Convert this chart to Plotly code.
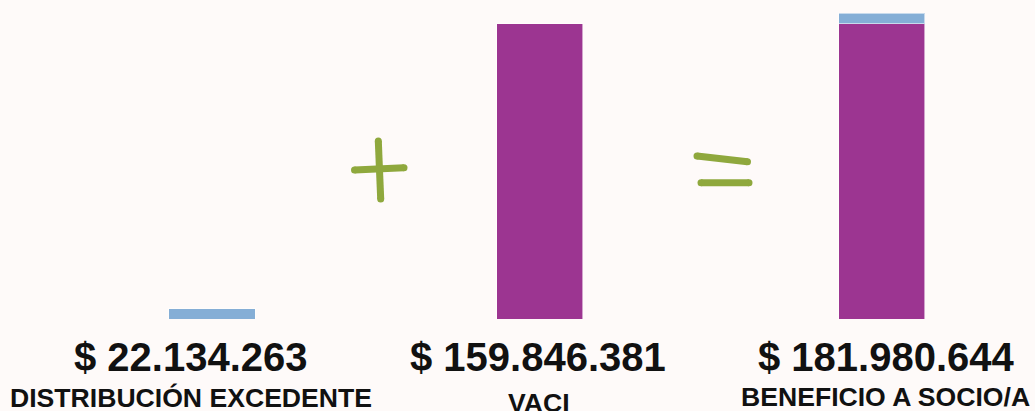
import plotly.graph_objects as go

# ---- data ----
categories = ["DISTRIBUCIÓN EXCEDENTE", "VACI", "BENEFICIO A SOCIO/A"]
amount_labels = ["$ 22.134.263", "$ 159.846.381", "$ 181.980.644"]
vaci_bar = [None, 159.846381, 159.846381]      # purple segment (millions)
excedente_bar = [5.6, None, 5.6]               # blue segment as drawn (millions)

PURPLE = "#9c3591"
BLUE = "#85aed6"
GREEN = "#8fa83d"
BG = "#fefaf9"

bar_w = 0.257
offsets = [-bar_w / 2, -bar_w / 2 - 0.022, -bar_w / 2]

fig = go.Figure()
fig.add_trace(go.Bar(
    x=categories, y=vaci_bar, marker=dict(color=PURPLE, line=dict(color="rgba(255,255,255,0.55)", width=1)),
    width=bar_w, offset=offsets, hoverinfo="skip", showlegend=False))
fig.add_trace(go.Bar(
    x=categories, y=excedente_bar, marker=dict(color=BLUE, line=dict(color="rgba(255,255,255,0.55)", width=1)),
    width=bar_w, offset=offsets, hoverinfo="skip", showlegend=False))

H = 319.0
def py(p):
    return (H - p) / H

annotations = []
num_shift = [-21, -9, 5]
name_shift = [-21, -8, 4]
name_y = [397.5, 402.5, 396.5]
for i, (cat, amt) in enumerate(zip(categories, amount_labels)):
    annotations.append(dict(
        x=cat, xref="x", y=py(357), yref="paper", xshift=num_shift[i],
        text=f"<b>{amt}</b>", showarrow=False, xanchor="center", yanchor="middle",
        font=dict(family="Liberation Sans, Arial, sans-serif", size=40, color="#111111")))
    annotations.append(dict(
        x=cat, xref="x", y=py(name_y[i]), yref="paper", xshift=name_shift[i],
        text=f"<b>{cat}</b>", showarrow=False, xanchor="center", yanchor="middle",
        font=dict(family="Liberation Sans, Arial, sans-serif", size=26.6, color="#111111")))

W = 1035.0
def px(p):
    return p / W

# hand-drawn "+" and "=" decorations (pixel positions of stroke ends)
strokes = [
    ((378.3, 141), (380.7, 199)),
    ((354.5, 170), (404, 167.7)),
    ((697, 156), (747.5, 161.7)),
    ((701, 182.7), (749, 182.7)),
]
SW = 7
shapes = []
for a, b in strokes:
    shapes.append(dict(type="line", xref="paper", yref="paper",
                       x0=px(a[0]), y0=py(a[1]), x1=px(b[0]), y1=py(b[1]),
                       line=dict(color=GREEN, width=SW)))
    for p in (a, b):
        shapes.append(dict(type="circle", xref="paper", yref="paper",
                           xsizemode="pixel", ysizemode="pixel",
                           xanchor=px(p[0]), yanchor=py(p[1]),
                           x0=-SW / 2, x1=SW / 2, y0=-SW / 2, y1=SW / 2,
                           fillcolor=GREEN, line=dict(width=0)))

fig.update_layout(
    width=1035, height=411,
    margin=dict(l=0, r=0, t=0, b=92),
    paper_bgcolor=BG, plot_bgcolor=BG,
    barmode="stack",
    xaxis=dict(visible=False, range=[-0.633, 2.457]),
    yaxis=dict(visible=False, range=[0, 172.6]),
    annotations=annotations,
    shapes=shapes,
)

fig.write_html(
    "out.html",
    config={"displayModeBar": False, "staticPlot": True},
    post_script="document.body.style.margin='0px';document.body.style.overflow='hidden';document.body.style.background='" + BG + "';",
)
